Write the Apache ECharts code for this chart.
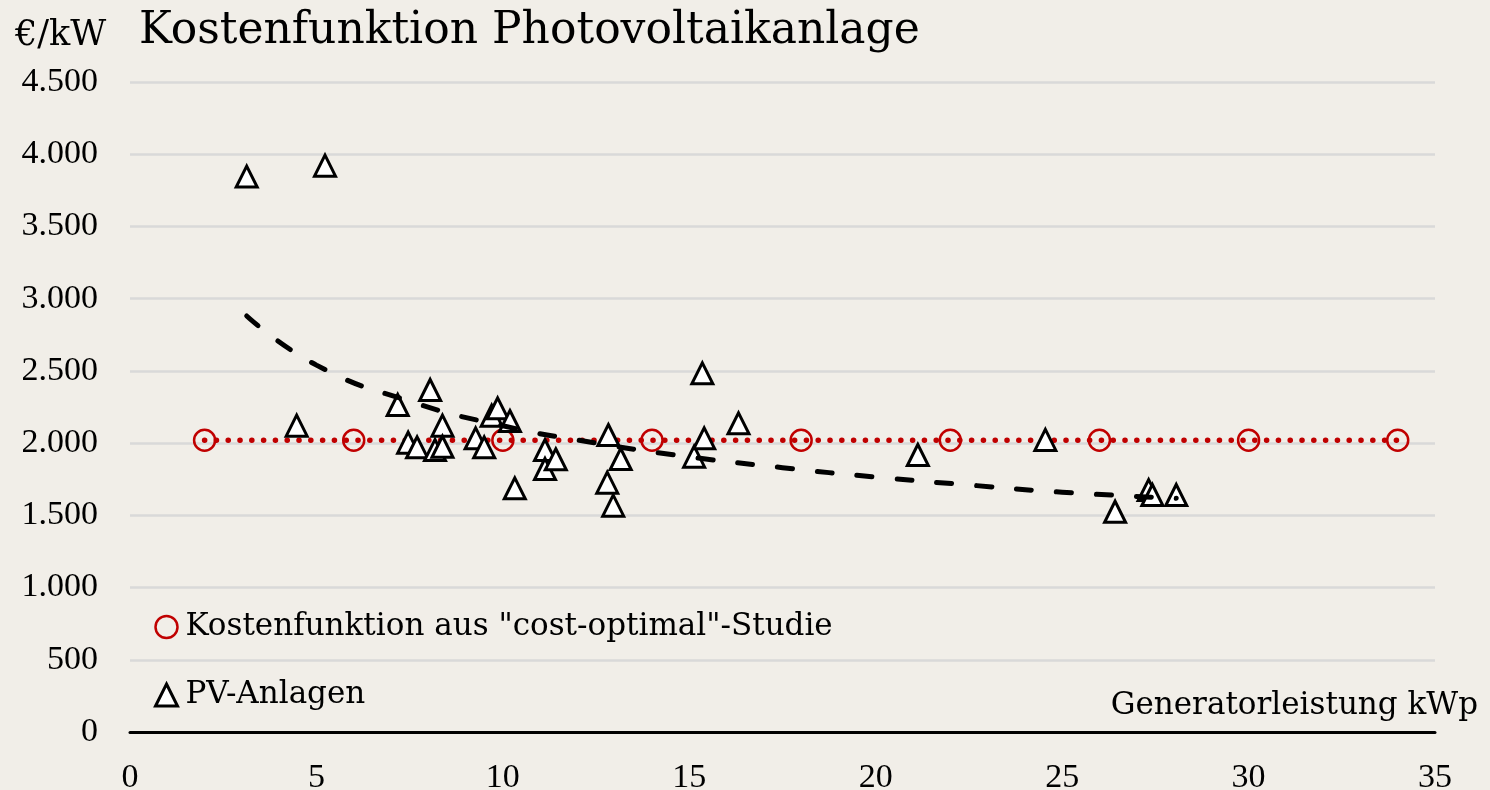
<!DOCTYPE html>
<html>
<head>
<meta charset="utf-8">
<title>Kostenfunktion Photovoltaikanlage</title>
<script src="https://cdn.jsdelivr.net/npm/echarts@6/dist/echarts.min.js"></script>
<style>
	html, body {
		margin: 0;
		padding: 0;
		background: #f1eee8;
	}
	#chart {
		width: 1490px;
		height: 790px;
	}
</style>
</head>
<body>
<div id="chart"></div>
<script>
	// Kostenfunktion aus "cost-optimal"-Studie (rote Kreise)
	var costX = [2, 6, 10, 14, 18, 22, 26, 30, 34];
	var costY = [2020, 2020, 2020, 2020, 2020, 2020, 2020, 2020, 2020];

	// PV-Anlagen (Dreiecke), Leistung kWp / Kosten €/kW
	var pvX = [3.13, 5.23, 4.47, 7.18, 7.46, 7.70, 8.05, 8.18, 8.38, 8.38, 9.27, 9.50, 9.70, 9.86, 10.19, 10.32, 11.13,
		11.13, 11.42, 12.83, 12.80, 12.96, 13.16, 15.13, 15.35, 15.40, 16.32, 21.13, 24.55, 26.42, 27.32, 27.42, 28.06];
	var pvY = [3845, 3921, 2121, 2264, 2003, 1971, 2368, 1952, 2121, 1975, 2033, 1971, 2190, 2241, 2153, 1687, 1952,
		1821, 1888, 2056, 1726, 1567, 1890, 1906, 2483, 2033, 2137, 1918, 2022, 1525, 1675, 1641, 1641];

	// Trendlinie (gestrichelt)
	var trendX = [3.13, 5, 7.5, 10, 12.5, 15, 17.5, 20, 22.5, 25, 28.06];
	var trendY = [2880, 2540, 2290, 2120, 2000, 1905, 1830, 1765, 1710, 1660, 1618];

	// Achsen
	var xTicks = [0, 5, 10, 15, 20, 25, 30, 35];
	var yTicks = ['0', '500', '1.000', '1.500', '2.000', '2.500', '3.000', '3.500', '4.000', '4.500'];

	var font = 'DejaVu Serif';
	var tickFont = 'Liberation Serif';

	function pairs(xs, ys) {
		var out = [];
		for (var i = 0; i < xs.length; i++) {
			out.push([xs[i], ys[i]]);
		}
		return out;
	}

	var myChart = echarts.init(document.getElementById('chart'));
	myChart.setOption({
		backgroundColor: '#f1eee8',
		animation: false,
		textStyle: {
			fontFamily: font,
			color: '#000'
		},
		title: [{
			text: 'Kostenfunktion Photovoltaikanlage',
			left: 134,
			top: 5,
			textStyle: {fontFamily: font, fontSize: 44, fontWeight: 'normal', color: '#000'}
		}, {
			text: '€/kW',
			left: 10,
			top: 13,
			textStyle: {fontFamily: font, fontSize: 35, fontWeight: 'normal', color: '#000'}
		}, {
			text: 'Generatorleistung kWp',
			right: 7,
			top: 685,
			textStyle: {fontFamily: font, fontSize: 31, fontWeight: 'normal', color: '#000'}
		}],
		legend: {
			orient: 'vertical',
			left: 149,
			top: 604,
			itemGap: 32,
			itemWidth: 22,
			itemHeight: 22,
			textStyle: {fontFamily: font, fontSize: 31, color: '#000', lineHeight: 36, padding: [0, 0, 0, 3]},
			data: [{
				name: 'Kostenfunktion aus "cost-optimal"-Studie',
				icon: 'circle',
				itemStyle: {color: 'rgba(0,0,0,0)', borderColor: '#c00000', borderWidth: 2.5}
			}, {
				name: 'PV-Anlagen',
				icon: 'triangle',
				itemStyle: {color: '#fff', borderColor: '#000', borderWidth: 3}
			}]
		},
		grid: {
			left: 130,
			right: 55,
			top: 82,
			bottom: 58,
			outerBoundsMode: 'none'
		},
		xAxis: {
			type: 'value',
			min: xTicks[0],
			max: xTicks[xTicks.length - 1],
			interval: 5,
			axisLine: {show: true, lineStyle: {color: '#000', width: 3}},
			axisTick: {show: false},
			splitLine: {show: false},
			axisLabel: {fontFamily: tickFont, fontSize: 34, color: '#000', margin: 29}
		},
		yAxis: {
			type: 'value',
			min: 0,
			max: 4500,
			interval: 500,
			axisLine: {show: false},
			axisTick: {show: false},
			splitLine: {lineStyle: {color: '#d9d9d9', width: 2.5}},
			axisLabel: {
				fontFamily: tickFont,
				fontSize: 34,
				color: '#000',
				margin: 32,
				formatter: function (v) {
					return yTicks[Math.round(v / 500)];
				}
			}
		},
		series: [{
			name: 'Kostenfunktion aus "cost-optimal"-Studie',
			type: 'line',
			data: pairs(costX, costY),
			symbol: 'circle',
			symbolSize: 21,
			showAllSymbol: true,
			z: 2,
			itemStyle: {color: 'rgba(0,0,0,0)', borderColor: '#c00000', borderWidth: 2.5},
			lineStyle: {color: '#c00000', width: 5.5, type: [0.1, 11.7], cap: 'round'}
		}, {
			name: 'PV-Anlagen',
			type: 'scatter',
			data: pairs(pvX, pvY),
			symbol: 'triangle',
			symbolSize: [21, 21],
			z: 3,
			itemStyle: {color: '#fff', borderColor: '#000', borderWidth: 3, opacity: 1}
		}, {
			name: 'Trend',
			type: 'line',
			data: pairs(trendX, trendY),
			smooth: true,
			showSymbol: false,
			silent: true,
			z: 4,
			lineStyle: {color: '#000', width: 5, type: [15, 25], cap: 'round'}
		}]
	});
</script>
</body>
</html>
